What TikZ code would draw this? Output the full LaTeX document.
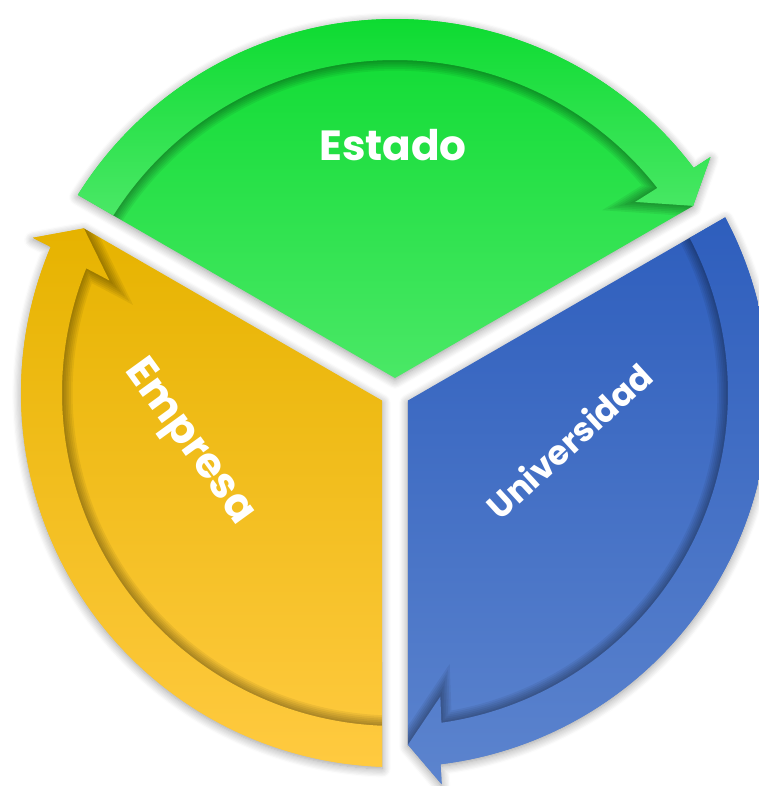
\documentclass[tikz,border=0pt]{standalone}
\usepackage{fontspec}
\newfontfamily\labelfont{Poppins}
\usetikzlibrary{shadows.blur}

\definecolor{greentop}{HTML}{0CDB30}
\definecolor{greenbot}{HTML}{4AE866}
\definecolor{bluetop}{HTML}{2E5EBD}
\definecolor{bluebot}{HTML}{5C84CE}
\definecolor{yellowtop}{HTML}{E6B300}
\definecolor{yellowbot}{HTML}{FFCA40}

\tikzset{
	sectortext/.style={text=white, inner sep=0pt, font=\labelfont\bfseries\fontsize{12}{14}\selectfont},
	smalltext/.style={font=\labelfont\bfseries\fontsize{9.6}{12}\selectfont},
	sectorshadow/.style={blur shadow={shadow xshift=0pt, shadow yshift=-0.6pt, shadow blur radius=2.5pt, shadow blur steps=8, shadow opacity=40}}
}

\begin{document}
\begin{tikzpicture}[x=0.1mm,y=0.1mm]

	% picture size
	\useasboundingbox (-395,-393) rectangle (364,393);

	% sectors: start angle / top colour / bottom colour
	\foreach \sa/\ct/\cb in {150/greentop/greenbot, 30/bluetop/bluebot, -90/yellowtop/yellowbot}{
		\pgfmathsetmacro{\ea}{\sa-120}

		% body of the sector with the arrow head
		\path[sectorshadow, top color=\ct, bottom color=\cb]
			(\sa-60:15) -- ({\sa-asin(13/374)}:374)
			arc[start angle={\sa-asin(13/374)}, end angle=\ea+7, radius=374]
			-- (\ea+6.8:394) -- ({\ea+asin(13/352)}:352) -- cycle;

		% shadow under the arrow
		\begin{scope}
			\clip (\sa-60:15) -- ({\sa-asin(13/374)}:374)
				arc[start angle={\sa-asin(13/374)}, end angle=\ea+7, radius=374]
				-- (\ea+6.8:394) -- ({\ea+asin(13/352)}:352) -- cycle;
			\foreach \w in {1,2,...,6}
				\draw[black, opacity=0.06, line width=\w pt]
					({\sa-asin(13/333)}:333)
					arc[start angle={\sa-asin(13/333)}, end angle=\ea+8, radius=333]
					-- (\ea+8.5:307) -- ({\ea+asin(13/352)}:352);
		\end{scope}

		% arrow
		\path[top color=\ct, bottom color=\cb]
			({\sa-asin(13/333)}:333) -- ({\sa-asin(13/374)}:374)
			arc[start angle={\sa-asin(13/374)}, end angle=\ea+7, radius=374]
			-- (\ea+6.8:394) -- ({\ea+asin(13/352)}:352) -- (\ea+8.5:307) -- (\ea+8:333)
			arc[start angle=\ea+8, end angle={\sa-asin(13/333)}, radius=333] -- cycle;
	}

	% labels
	\node[sectortext] (estado) at (-2,248) {Estado};
	\node[sectortext, rotate=-54] (empresa) at (-207,-50) {Empresa};
	\node[sectortext, smalltext, rotate=42.5] (universidad) at (174,-48) {Universidad};

\end{tikzpicture}
\end{document}
